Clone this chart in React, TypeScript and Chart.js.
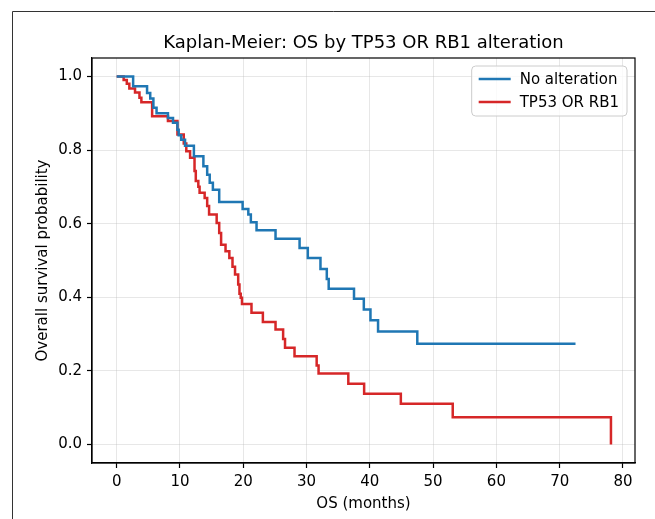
import React, { useEffect, useRef } from 'react';
import { Chart, registerables } from 'chart.js';

Chart.register(...registerables);

const chartTitle = 'Kaplan-Meier: OS by TP53 OR RB1 alteration';
const xTitle = 'OS (months)';
const yTitle = 'Overall survival probability';
const seriesLabels = ['No alteration', 'TP53 OR RB1'];
const seriesColors = ['#1f77b4', '#d62728'];

const noAltTimes = [0, 2.6, 4.8, 5.3, 5.8, 6.3, 8.1, 8.9, 9.6, 9.8, 10.2, 10.8, 12.2, 13.7, 14.3, 14.7, 15.2, 16.2, 19.9, 20.8, 21.2, 22.1, 25.1, 28.9, 30.2, 32.2, 33.2, 33.5, 37.5, 39.05, 40.1, 41.3, 47.5, 72.5];
const noAltSurv = [1.0, 0.973, 0.955, 0.94, 0.915, 0.9, 0.887, 0.874, 0.855, 0.84, 0.828, 0.812, 0.783, 0.756, 0.733, 0.711, 0.692, 0.659, 0.64, 0.625, 0.604, 0.582, 0.559, 0.534, 0.507, 0.477, 0.45, 0.423, 0.396, 0.367, 0.338, 0.307, 0.274, 0.274];

const altTimes = [0, 1.1, 1.6, 2.0, 2.9, 3.6, 3.9, 5.6, 8.1, 9.6, 10.6, 11.0, 11.6, 12.3, 12.5, 12.9, 13.1, 13.9, 14.3, 14.6, 15.8, 16.2, 16.5, 17.2, 17.8, 18.3, 18.7, 19.2, 19.4, 19.6, 19.8, 21.3, 23.1, 25.1, 26.3, 26.6, 28.1, 31.6, 31.9, 36.6, 39.1, 44.9, 53.1, 78.1];
const altSurv = [1.0, 0.99, 0.98, 0.967, 0.956, 0.942, 0.93, 0.892, 0.879, 0.842, 0.818, 0.797, 0.779, 0.743, 0.716, 0.7, 0.684, 0.67, 0.648, 0.625, 0.602, 0.575, 0.543, 0.525, 0.507, 0.483, 0.462, 0.435, 0.41, 0.399, 0.382, 0.358, 0.333, 0.3125, 0.287, 0.263, 0.24, 0.215, 0.193, 0.165, 0.138, 0.111, 0.074, 0.0];

const xTicks = [0, 10, 20, 30, 40, 50, 60, 70, 80];
const yTicks = [0, 0.2, 0.4, 0.6, 0.8, 1.0];

const FONT = "'DejaVu Sans', sans-serif";

const framePlugin = {
  id: 'framePlugin',
  afterDraw(chart: any) {
    const ctx = chart.ctx;
    const { left, right, top, bottom } = chart.chartArea;
    ctx.save();
    ctx.strokeStyle = '#333';
    ctx.lineWidth = 1;
    ctx.beginPath();
    ctx.moveTo(12.5, chart.height);
    ctx.lineTo(12.5, 11.5);
    ctx.lineTo(chart.width, 11.5);
    ctx.stroke();
    ctx.strokeStyle = '#000';
    ctx.lineWidth = 1.2;
    ctx.strokeRect(left, top, right - left, bottom - top);
    ctx.fillStyle = '#000';
    ctx.font = `18px ${FONT}`;
    ctx.textAlign = 'center';
    ctx.textBaseline = 'middle';
    ctx.fillText(chartTitle, (left + right) / 2, 43);
    ctx.font = `15px ${FONT}`;
    const widths = seriesLabels.map((l) => ctx.measureText(l).width);
    const maxW = Math.max(...widths);
    const boxRight = right - 8;
    const boxTop = top + 8;
    const boxW = 7 + 32 + 9 + maxW + 8;
    const boxH = 50;
    const boxLeft = boxRight - boxW;
    const r = 4;
    ctx.beginPath();
    ctx.moveTo(boxLeft + r, boxTop);
    ctx.lineTo(boxRight - r, boxTop);
    ctx.quadraticCurveTo(boxRight, boxTop, boxRight, boxTop + r);
    ctx.lineTo(boxRight, boxTop + boxH - r);
    ctx.quadraticCurveTo(boxRight, boxTop + boxH, boxRight - r, boxTop + boxH);
    ctx.lineTo(boxLeft + r, boxTop + boxH);
    ctx.quadraticCurveTo(boxLeft, boxTop + boxH, boxLeft, boxTop + boxH - r);
    ctx.lineTo(boxLeft, boxTop + r);
    ctx.quadraticCurveTo(boxLeft, boxTop, boxLeft + r, boxTop);
    ctx.closePath();
    ctx.fillStyle = 'rgba(255,255,255,0.8)';
    ctx.fill();
    ctx.strokeStyle = '#cccccc';
    ctx.lineWidth = 1;
    ctx.stroke();
    seriesLabels.forEach((label, i) => {
      const y = boxTop + 13 + i * 23;
      ctx.strokeStyle = seriesColors[i];
      ctx.lineWidth = 2.5;
      ctx.beginPath();
      ctx.moveTo(boxLeft + 7, y);
      ctx.lineTo(boxLeft + 39, y);
      ctx.stroke();
      ctx.fillStyle = '#000';
      ctx.textAlign = 'left';
      ctx.textBaseline = 'middle';
      ctx.fillText(label, boxLeft + 48, y + 1);
    });
    ctx.restore();
  },
};

export default function App() {
  const ref = useRef<HTMLCanvasElement | null>(null);
  useEffect(() => {
    if (!ref.current) return;
    const mk = (t: number[], s: number[]) => t.map((x, i) => ({ x, y: s[i] }));
    const chart = new Chart(ref.current, {
      type: 'line',
      data: {
        datasets: [
          {
            label: seriesLabels[0],
            data: mk(noAltTimes, noAltSurv),
            borderColor: seriesColors[0],
            backgroundColor: seriesColors[0],
            borderWidth: 2.5,
            pointRadius: 0,
            stepped: 'before',
            fill: false,
          },
          {
            label: seriesLabels[1],
            data: mk(altTimes, altSurv),
            borderColor: seriesColors[1],
            backgroundColor: seriesColors[1],
            borderWidth: 2.5,
            pointRadius: 0,
            stepped: 'before',
            fill: false,
          },
        ],
      },
      options: {
        animation: false,
        responsive: false,
        devicePixelRatio: 1,
        layout: { padding: { top: 58, right: 20, left: 0, bottom: 0 } },
        plugins: {
          legend: { display: false },
          title: { display: false },
          tooltip: { enabled: false },
        },
        scales: {
          x: {
            type: 'linear',
            min: -3.9,
            max: 81.9,
            afterBuildTicks: (s: any) => {
              s.ticks = xTicks.map((v) => ({ value: v }));
            },
            afterFit: (s: any) => {
              s.height = 56;
            },
            grid: {
              color: 'rgba(176,176,176,0.3)',
              lineWidth: 1,
              tickColor: '#000',
              tickLength: 5,
              tickWidth: 1.2,
            },
            border: { display: true, color: '#000', width: 1.2 },
            ticks: {
              color: '#000',
              padding: 5,
              font: { family: FONT, size: 15 },
              callback: (v: any) => String(v),
              maxRotation: 0,
            },
            title: {
              display: true,
              text: xTitle,
              color: '#000',
              font: { family: FONT, size: 15 },
              padding: { top: 6, bottom: 6 },
            },
          },
          y: {
            type: 'linear',
            min: -0.05,
            max: 1.05,
            afterBuildTicks: (s: any) => {
              s.ticks = yTicks.map((v) => ({ value: v }));
            },
            afterFit: (s: any) => {
              s.width = 92;
            },
            grid: {
              color: 'rgba(176,176,176,0.3)',
              lineWidth: 1,
              tickColor: '#000',
              tickLength: 5,
              tickWidth: 1.2,
            },
            border: { display: true, color: '#000', width: 1.2 },
            ticks: {
              color: '#000',
              padding: 5,
              font: { family: FONT, size: 15 },
              callback: (v: any) => Number(v).toFixed(1),
            },
            title: {
              display: true,
              text: yTitle,
              color: '#000',
              font: { family: FONT, size: 15 },
              padding: { top: 34, bottom: 34 },
            },
          },
        },
      },
      plugins: [framePlugin],
    } as any);
    return () => chart.destroy();
  }, []);
  return (
    <div style={{ position: 'absolute', left: 0, top: 0, width: 655, height: 519, background: '#fff' }}>
      <canvas ref={ref} width={655} height={519} style={{ display: 'block' }} />
    </div>
  );
}
